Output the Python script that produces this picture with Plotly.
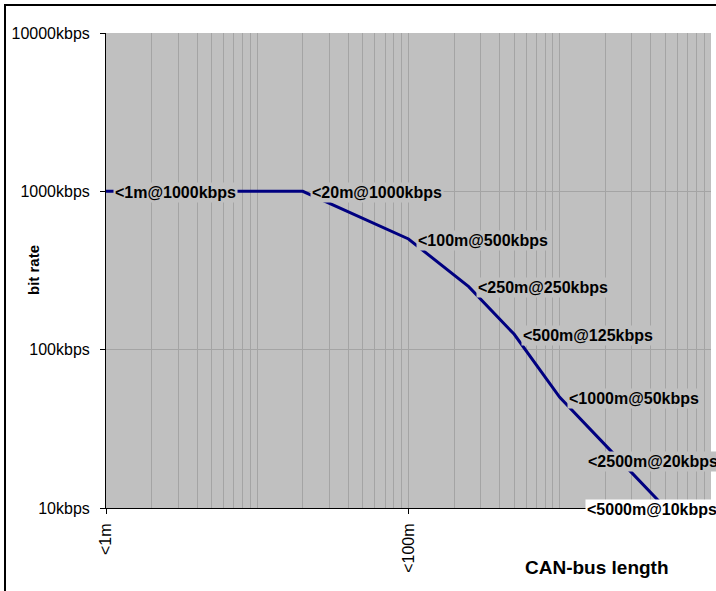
import math

import plotly.graph_objects as go

# CAN-bus length (m) vs maximum bit rate (kbps)
lengths_m = [1, 20, 100, 250, 500, 1000, 2500, 5000]
rates_kbps = [1000, 1000, 500, 250, 125, 50, 20, 10]

x_tickvals = [1, 100, 10000]
x_ticktext = ["<1m", "<100m", "<10000m"]
y_tickvals = [10, 100, 1000, 10000]
y_ticktext = ["10kbps", "100kbps", "1000kbps", "10000kbps"]

FONT = "Liberation Sans, Arial, sans-serif"
PLOT_BG = "#C0C0C0"
GRID = "#A4A4A4"
LINE = "#000080"

# plot area in pixels (left, right, top, bottom)
PL, PR, PT, PB = 106, 711, 33, 508

# vertical gridlines at every 1..9 step of each decade
x_grid = [m * 10 ** d for d in range(4) for m in range(1, 10)] + [10000]


def px_x(v):
    return (v - PL) / (PR - PL)


def px_y(v):
    return (PB - v) / (PB - PT)


fig = go.Figure()
fig.add_trace(go.Scatter(
    x=lengths_m, y=rates_kbps, mode="lines",
    line=dict(color=LINE, width=3),
    hoverinfo="x+y", showlegend=False,
))

# data labels, Excel style: just right of the point, last two pushed left to fit
annotations = []
n = len(lengths_m)
for i, (l, r) in enumerate(zip(lengths_m, rates_kbps)):
    shift = 7
    bg = PLOT_BG
    if i == n - 2:
        shift = -34
    if i == n - 1:
        shift = -80
        bg = "white"
    annotations.append(dict(
        x=math.log10(l), y=math.log10(r), xref="x", yref="y",
        text=f"<{l}m@{r}kbps", showarrow=False,
        xanchor="left", yanchor="middle", xshift=shift, yshift=-1,
        bgcolor=bg, borderpad=1,
        font=dict(family=FONT, size=16, color="black", weight="bold"),
    ))

annotations.append(dict(
    x=px_x(597), y=px_y(567), xref="paper", yref="paper",
    xanchor="center", yanchor="middle",
    text="CAN-bus length", showarrow=False,
    font=dict(family=FONT, size=19, color="black", weight="bold"),
))
annotations.append(dict(
    x=px_x(33), y=px_y(270), xref="paper", yref="paper",
    xanchor="center", yanchor="middle",
    text="bit rate", showarrow=False, textangle=-90,
    font=dict(family=FONT, size=15, color="black", weight="bold"),
))

fig.update_layout(
    width=716, height=591,
    margin=dict(l=PL, r=716 - PR, t=PT, b=591 - PB),
    paper_bgcolor="white", plot_bgcolor=PLOT_BG,
    font=dict(family=FONT, size=16, color="black"),
    annotations=annotations,
    shapes=[dict(
        type="rect", xref="paper", yref="paper",
        x0=px_x(5), x1=px_x(800), y0=px_y(700), y1=px_y(5),
        line=dict(color="black", width=2), fillcolor="rgba(0,0,0,0)",
        layer="above",
    )],
)

fig.update_xaxes(
    type="log", range=[0, 4], automargin=False,
    tickmode="array", tickvals=x_tickvals, ticktext=x_ticktext,
    tickangle=-90, ticks="outside", ticklen=5, tickcolor="black",
    ticklabelstandoff=3,
    showgrid=True, gridcolor=GRID, gridwidth=1,
    minor=dict(tickmode="array", tickvals=x_grid, showgrid=True,
               gridcolor=GRID, gridwidth=1, ticks=""),
    showline=True, linecolor="black", linewidth=1,
    zeroline=False, tickfont=dict(size=16),
)
fig.update_yaxes(
    type="log", range=[1, 4], automargin=False,
    tickmode="array", tickvals=y_tickvals, ticktext=y_ticktext,
    ticks="outside", ticklen=5, tickcolor="black",
    ticklabelstandoff=7,
    showgrid=True, gridcolor=GRID, gridwidth=1,
    showline=True, linecolor="black", linewidth=1,
    zeroline=False, tickfont=dict(size=16),
)

# drop the browser's default 8px body margin so the figure fills the window
fig.write_html("out.html", config={"displayModeBar": False},
               post_script="document.body.style.margin='0';"
                           "document.body.style.overflow='hidden';")
